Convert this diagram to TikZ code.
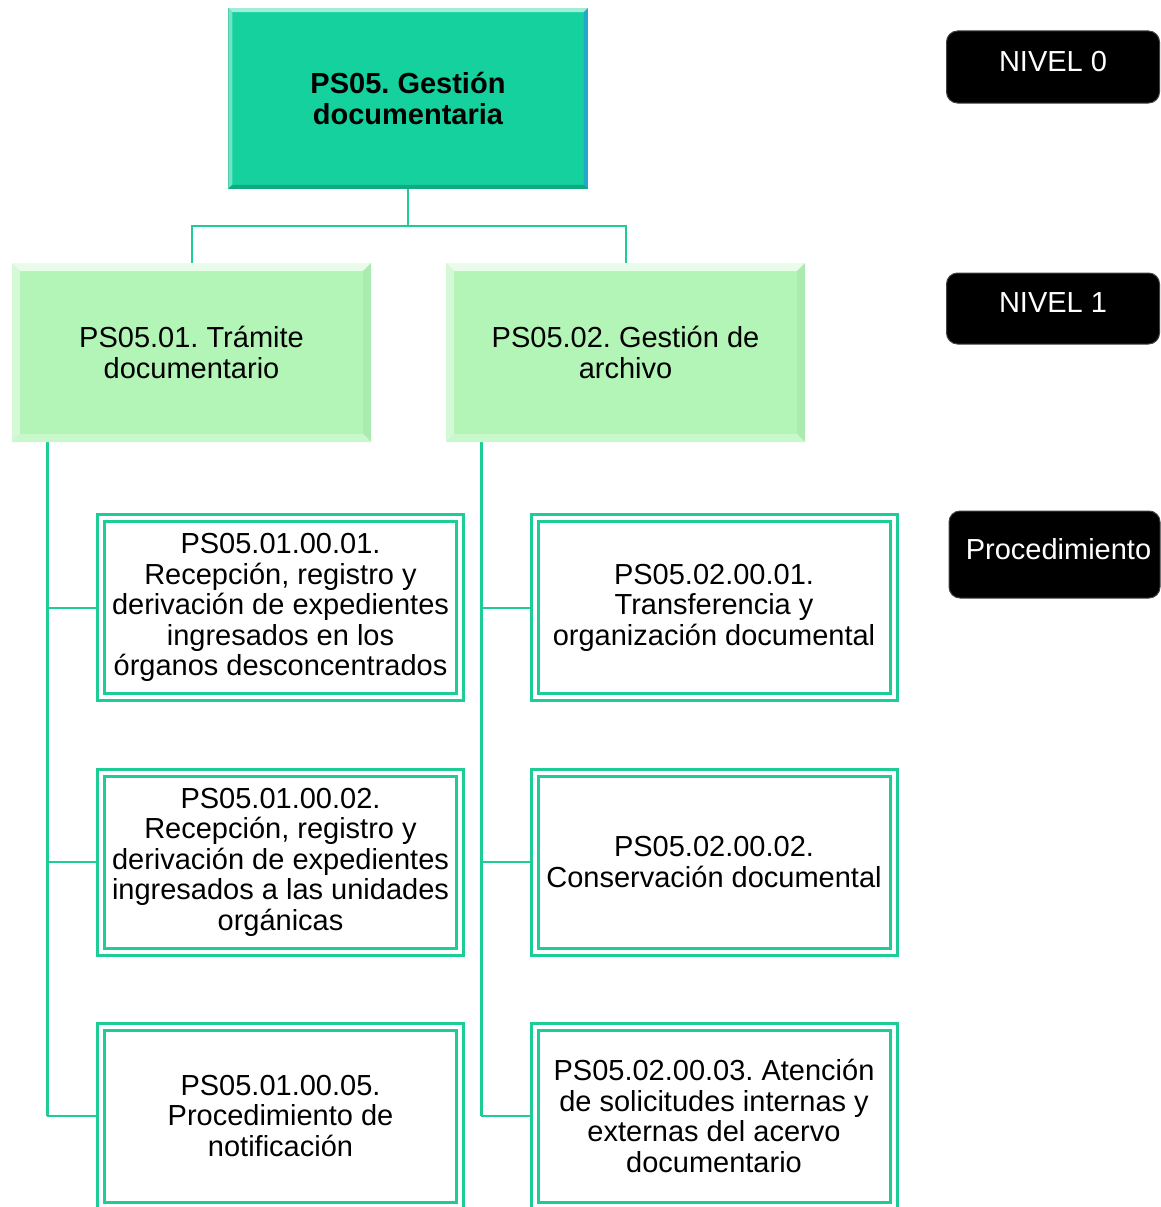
\documentclass[tikz,border=0pt]{standalone}
\usepackage{fontspec}
\setmainfont{Liberation Sans}
\usetikzlibrary{calc,backgrounds}
\frenchspacing

\definecolor{rootfill}{RGB}{20,209,157}
\definecolor{rootedge}{RGB}{14,170,128}
\definecolor{subfill}{RGB}{178,245,182}
\definecolor{linegreen}{RGB}{30,204,150}

% four bevel bands around a node: node, depth, top colour, left colour, right colour, bottom colour
\newcommand\bevelbox[6]{%
  \fill[#3] (#1.north west) -- (#1.north east) -- ($(#1.north east)+(-#2,#2)$) -- ($(#1.north west)+(#2,#2)$) -- cycle;
  \fill[#4] (#1.north west) -- ($(#1.north west)+(#2,#2)$) -- ($(#1.south west)+(#2,-#2)$) -- (#1.south west) -- cycle;
  \fill[#5] (#1.north east) -- ($(#1.north east)+(-#2,#2)$) -- ($(#1.south east)+(-#2,-#2)$) -- (#1.south east) -- cycle;
  \fill[#6] (#1.south west) -- ($(#1.south west)+(#2,-#2)$) -- ($(#1.south east)+(-#2,-#2)$) -- (#1.south east) -- cycle;
}

\begin{document}
\begin{tikzpicture}[x=1pt,y=-1pt,
  txt/.style={font=\fontsize{29}{30.5}\selectfont, align=center},
  rootbox/.style={txt, font=\fontsize{29}{30.5}\selectfont\bfseries, fill=rootfill, draw=rootedge, line width=1.5pt,
    minimum width=358pt, minimum height=179pt, inner sep=0pt},
  subbox/.style={txt, fill=subfill, draw=subfill!85!white, line width=1pt,
    minimum width=358pt, minimum height=178pt, inner sep=0pt},
  procbox/.style={txt, fill=white, draw=linegreen, line width=3pt, double=white, double distance=4pt,
    minimum width=359pt, minimum height=179pt, inner sep=0pt},
  badge/.style={txt, text=white, fill=black, draw=black!75, line width=1pt, rounded corners=11pt,
    minimum width=213pt, inner sep=0pt, text depth=12pt},
  conn/.style={draw=linegreen, line width=2pt},
  spine/.style={draw=linegreen, line width=3pt}
]
\useasboundingbox (0,0) rectangle (1161,1207);

% level 0
\node[rootbox] (root) at (408,98.5) {PS05. Gestión\\documentaria};
\bevelbox{root}{4}{white!60!rootfill}{white!40!rootfill}{cyan!40!rootfill}{rootedge}

% level 1
\node[subbox] (l1a) at (191.5,352.5) {PS05.01. Trámite\\documentario};
\node[subbox] (l1b) at (625.5,352.5) {PS05.02. Gestión de\\archivo};
\bevelbox{l1a}{8}{white!70!subfill}{white!45!subfill}{black!4!subfill}{white!30!subfill}
\bevelbox{l1b}{8}{white!70!subfill}{white!45!subfill}{black!4!subfill}{white!30!subfill}

% procedures
\node[procbox] (p11) at (280.5,607.5) {PS05.01.00.01.\\Recepción, registro y\\derivación de expedientes\\ingresados en los\\órganos desconcentrados};
\node[procbox] (p12) at (280.5,862) {PS05.01.00.02.\\Recepción, registro y\\derivación de expedientes\\ingresados a las unidades\\orgánicas};
\node[procbox] (p15) at (280.5,1116) {PS05.01.00.05.\\Procedimiento de\\notificación};
\node[procbox] (p21) at (714,607.5) {PS05.02.00.01.\\Transferencia y\\organización documental};
\node[procbox] (p22) at (714,862) {PS05.02.00.02.\\Conservación documental};
\node[procbox] (p23) at (714,1116) {PS05.02.00.03. Atención\\de solicitudes internas y\\externas del acervo\\documentario};

% level badges
\node[badge, minimum height=72pt] (n0) at (1053,67) {NIVEL 0};
\node[badge, minimum height=71pt] (n1) at (1053,308.5) {NIVEL 1};
\node[badge, minimum width=211pt, minimum height=87pt] (np) at (1054.5,554.5) {\hspace*{8pt}Procedimiento};

% connectors
\coordinate (sa) at ($(l1a.south west)+(35,0)$);
\coordinate (sb) at ($(l1b.south west)+(35,0)$);
\begin{pgfonlayer}{background}
  \draw[conn] (root.south) -- ++(0,37) -| (l1a.north);
  \draw[conn] (root.south) -- ++(0,37) -| (l1b.north);
  \draw[spine] (sa) -- (sa |- p15.west);
  \draw[spine] (sb) -- (sb |- p23.west);
  \draw[conn] (sa |- p11.west) -- (p11.west);
  \draw[conn] (sa |- p12.west) -- (p12.west);
  \draw[conn] (sa |- p15.west) -- (p15.west);
  \draw[conn] (sb |- p21.west) -- (p21.west);
  \draw[conn] (sb |- p22.west) -- (p22.west);
  \draw[conn] (sb |- p23.west) -- (p23.west);
\end{pgfonlayer}
\end{tikzpicture}
\end{document}
